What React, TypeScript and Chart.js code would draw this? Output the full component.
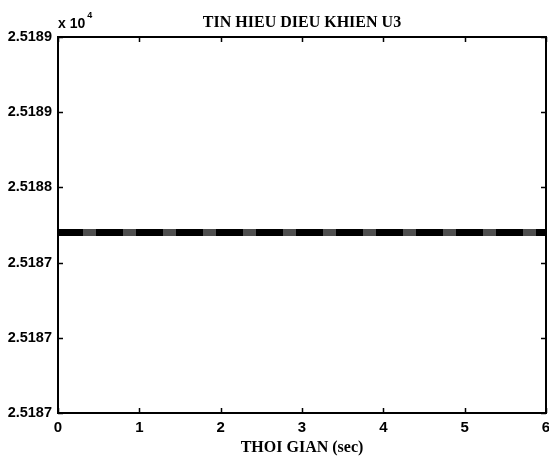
import React, { useEffect, useRef } from "react";
import { Chart, registerables } from "chart.js";

Chart.register(...registerables);

const timeValues = [0, 1, 2, 3, 4, 5, 6];
const controlSignal = [25187.96, 25187.96, 25187.96, 25187.96, 25187.96, 25187.96, 25187.96];
const yTickLabels = ["2.5187", "2.5187", "2.5187", "2.5188", "2.5189", "2.5189"];
const xTickLabels = ["0", "1", "2", "3", "4", "5", "6"];
const yMin = 25187.0;
const yMax = 25189.0;
const yStep = 0.4;
const titleText = "TIN HIEU DIEU KHIEN U3";
const xTitle = "THOI GIAN (sec)";
const exponentText = "x 10";
const exponentSup = "4";

const SANS = "'Liberation Sans', Arial, sans-serif";
const SERIF = "'Liberation Serif', 'Times New Roman', serif";

const framePlugin = {
  id: "matlabFrame",
  afterDraw(chart: any) {
    const { ctx, chartArea } = chart;
    const { left, right, top, bottom } = chartArea;
    const xs = chart.scales.x;
    const ys = chart.scales.y;
    ctx.save();
    ctx.strokeStyle = "#000";
    ctx.lineWidth = 2;
    ctx.strokeRect(left, top, right - left, bottom - top);
    ctx.lineWidth = 1.5;
    const tl = 5;
    xs.ticks.forEach((t: any) => {
      const px = Math.round(xs.getPixelForValue(t.value)) + 0.5;
      ctx.beginPath();
      ctx.moveTo(px, bottom);
      ctx.lineTo(px, bottom - tl);
      ctx.moveTo(px, top);
      ctx.lineTo(px, top + tl);
      ctx.stroke();
    });
    ys.ticks.forEach((t: any) => {
      const py = Math.round(ys.getPixelForValue(t.value)) + 0.5;
      ctx.beginPath();
      ctx.moveTo(left, py);
      ctx.lineTo(left + tl, py);
      ctx.moveTo(right, py);
      ctx.lineTo(right - tl, py);
      ctx.stroke();
    });
    // title
    ctx.fillStyle = "#000";
    ctx.font = "bold 16px " + SERIF;
    ctx.textAlign = "center";
    ctx.textBaseline = "alphabetic";
    ctx.fillText(titleText, (left + right) / 2, top - 10);
    // exponent
    ctx.font = "bold 14px " + SANS;
    ctx.textAlign = "left";
    ctx.fillText(exponentText, left, top - 9);
    const w = ctx.measureText(exponentText).width;
    ctx.font = "bold 9px " + SANS;
    ctx.fillText(exponentSup, left + w + 2, top - 19);
    ctx.restore();
  },
};

export default function App() {
  const ref = useRef<HTMLCanvasElement | null>(null);
  useEffect(() => {
    document.body.style.margin = "0";
    const canvas = ref.current;
    if (!canvas) return;
    const chart = new Chart(canvas, {
      type: "line",
      data: {
        datasets: [
          {
            data: timeValues.map((x, i) => ({ x, y: controlSignal[i] })),
            borderColor: "#000",
            borderWidth: 7,
            pointRadius: 0,
            order: 2,
          },
          {
            data: timeValues.map((x, i) => ({ x, y: controlSignal[i] })),
            borderColor: "#4d4d4d",
            borderWidth: 7,
            borderDash: [13, 27],
            borderDashOffset: -25,
            pointRadius: 0,
            order: 1,
          },
        ],
      },
      options: {
        animation: false,
        responsive: false,
        maintainAspectRatio: false,
        layout: { padding: { top: 37, right: 3, left: 0, bottom: 0 } },
        plugins: { legend: { display: false }, tooltip: { enabled: false }, title: { display: false } },
        scales: {
          x: {
            type: "linear",
            min: 0,
            max: 6,
            grid: { display: false, drawTicks: false },
            border: { display: false },
            ticks: {
              stepSize: 1,
              padding: 6,
              color: "#000",
              maxRotation: 0,
              autoSkip: false,
              font: { family: SANS, size: 15, weight: "bold" },
              callback: (v: any, i: number) => xTickLabels[i] ?? String(v),
            },
            title: {
              display: true,
              text: xTitle,
              color: "#000",
              padding: { top: 0, bottom: 3 },
              font: { family: SERIF, size: 16, weight: "bold" },
            },
            afterFit: (scale: any) => {
              scale.height = 47;
              scale.paddingLeft = 0;
              scale.paddingRight = 0;
            },
          },
          y: {
            type: "linear",
            min: yMin,
            max: yMax,
            grid: { display: false, drawTicks: false },
            border: { display: false },
            ticks: {
              stepSize: yStep,
              padding: 6,
              color: "#000",
              font: { family: SANS, size: 14.5, weight: "bold" },
              callback: (v: any, i: number) => yTickLabels[i] ?? String(v),
            },
            afterFit: (scale: any) => {
              scale.width = 58;
              scale.paddingTop = 0;
              scale.paddingBottom = 0;
            },
          },
        },
      },
      plugins: [framePlugin],
    } as any);
    return () => chart.destroy();
  }, []);
  return (
    <div style={{ position: "relative", width: 549, height: 460, background: "#fff" }}>
      <canvas ref={ref} width={549} height={460} style={{ display: "block" }} />
    </div>
  );
}
